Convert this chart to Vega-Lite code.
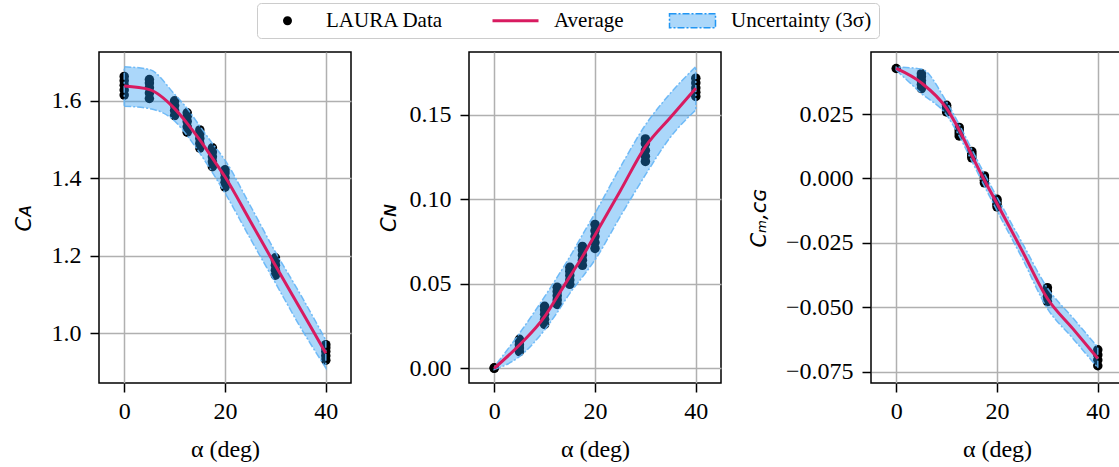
{
  "$schema": "https://vega.github.io/schema/vega-lite/v6.json",
  "padding": {"left": 12, "top": 2, "right": 0, "bottom": 0},
  "spacing": 25,
  "datasets": {
    "pts": [
      {"p":"A","a":0,"v":1.615},{"p":"A","a":0,"v":1.628},{"p":"A","a":0,"v":1.64},{"p":"A","a":0,"v":1.652},{"p":"A","a":0,"v":1.663},
      {"p":"A","a":5,"v":1.606},{"p":"A","a":5,"v":1.62},{"p":"A","a":5,"v":1.634},{"p":"A","a":5,"v":1.646},{"p":"A","a":5,"v":1.655},
      {"p":"A","a":10,"v":1.562},{"p":"A","a":10,"v":1.575},{"p":"A","a":10,"v":1.588},{"p":"A","a":10,"v":1.6},
      {"p":"A","a":12.5,"v":1.519},{"p":"A","a":12.5,"v":1.533},{"p":"A","a":12.5,"v":1.547},{"p":"A","a":12.5,"v":1.56},{"p":"A","a":12.5,"v":1.569},
      {"p":"A","a":15,"v":1.478},{"p":"A","a":15,"v":1.49},{"p":"A","a":15,"v":1.503},{"p":"A","a":15,"v":1.515},{"p":"A","a":15,"v":1.525},
      {"p":"A","a":17.5,"v":1.43},{"p":"A","a":17.5,"v":1.443},{"p":"A","a":17.5,"v":1.456},{"p":"A","a":17.5,"v":1.468},{"p":"A","a":17.5,"v":1.479},
      {"p":"A","a":20,"v":1.377},{"p":"A","a":20,"v":1.39},{"p":"A","a":20,"v":1.402},{"p":"A","a":20,"v":1.414},{"p":"A","a":20,"v":1.422},
      {"p":"A","a":30,"v":1.15},{"p":"A","a":30,"v":1.163},{"p":"A","a":30,"v":1.176},{"p":"A","a":30,"v":1.188},{"p":"A","a":30,"v":1.195},
      {"p":"A","a":40,"v":0.931},{"p":"A","a":40,"v":0.942},{"p":"A","a":40,"v":0.953},{"p":"A","a":40,"v":0.963},{"p":"A","a":40,"v":0.971},
      {"p":"N","a":0,"v":0.0},{"p":"N","a":0,"v":0.0003},
      {"p":"N","a":5,"v":0.0099},{"p":"N","a":5,"v":0.012},{"p":"N","a":5,"v":0.014},{"p":"N","a":5,"v":0.016},{"p":"N","a":5,"v":0.0172},
      {"p":"N","a":10,"v":0.026},{"p":"N","a":10,"v":0.029},{"p":"N","a":10,"v":0.032},{"p":"N","a":10,"v":0.0345},{"p":"N","a":10,"v":0.0367},
      {"p":"N","a":12.5,"v":0.0378},{"p":"N","a":12.5,"v":0.0405},{"p":"N","a":12.5,"v":0.043},{"p":"N","a":12.5,"v":0.0455},{"p":"N","a":12.5,"v":0.048},
      {"p":"N","a":15,"v":0.0497},{"p":"N","a":15,"v":0.0523},{"p":"N","a":15,"v":0.055},{"p":"N","a":15,"v":0.0575},{"p":"N","a":15,"v":0.0598},
      {"p":"N","a":17.5,"v":0.061},{"p":"N","a":17.5,"v":0.064},{"p":"N","a":17.5,"v":0.067},{"p":"N","a":17.5,"v":0.07},{"p":"N","a":17.5,"v":0.0722},
      {"p":"N","a":20,"v":0.071},{"p":"N","a":20,"v":0.0745},{"p":"N","a":20,"v":0.078},{"p":"N","a":20,"v":0.0815},{"p":"N","a":20,"v":0.0852},
      {"p":"N","a":30,"v":0.1225},{"p":"N","a":30,"v":0.1255},{"p":"N","a":30,"v":0.129},{"p":"N","a":30,"v":0.133},{"p":"N","a":30,"v":0.1358},
      {"p":"N","a":40,"v":0.161},{"p":"N","a":40,"v":0.1635},{"p":"N","a":40,"v":0.166},{"p":"N","a":40,"v":0.169},{"p":"N","a":40,"v":0.1718},
      {"p":"M","a":0,"v":0.0427},
      {"p":"M","a":5,"v":0.0349},{"p":"M","a":5,"v":0.0365},{"p":"M","a":5,"v":0.038},{"p":"M","a":5,"v":0.0395},{"p":"M","a":5,"v":0.0407},
      {"p":"M","a":10,"v":0.0258},{"p":"M","a":10,"v":0.0267},{"p":"M","a":10,"v":0.0276},{"p":"M","a":10,"v":0.0284},
      {"p":"M","a":12.5,"v":0.0165},{"p":"M","a":12.5,"v":0.0177},{"p":"M","a":12.5,"v":0.0188},{"p":"M","a":12.5,"v":0.0198},
      {"p":"M","a":15,"v":0.008},{"p":"M","a":15,"v":0.0089},{"p":"M","a":15,"v":0.0097},{"p":"M","a":15,"v":0.0105},
      {"p":"M","a":17.5,"v":-0.0017},{"p":"M","a":17.5,"v":-0.0007},{"p":"M","a":17.5,"v":0.0002},{"p":"M","a":17.5,"v":0.001},
      {"p":"M","a":20,"v":-0.011},{"p":"M","a":20,"v":-0.01},{"p":"M","a":20,"v":-0.009},{"p":"M","a":20,"v":-0.0081},
      {"p":"M","a":30,"v":-0.0478},{"p":"M","a":30,"v":-0.0458},{"p":"M","a":30,"v":-0.044},{"p":"M","a":30,"v":-0.0424},
      {"p":"M","a":40,"v":-0.0727},{"p":"M","a":40,"v":-0.0705},{"p":"M","a":40,"v":-0.0685},{"p":"M","a":40,"v":-0.0665}
    ],
    "avg": [
      {"p":"A","a":0,"m":1.638,"lo":1.586,"hi":1.688},
      {"p":"A","a":5,"m":1.629,"lo":1.58,"hi":1.681},
      {"p":"A","a":10,"m":1.58,"lo":1.548,"hi":1.617},
      {"p":"A","a":12.5,"m":1.542,"lo":1.51,"hi":1.58},
      {"p":"A","a":15,"m":1.499,"lo":1.465,"hi":1.535},
      {"p":"A","a":17.5,"m":1.452,"lo":1.415,"hi":1.49},
      {"p":"A","a":20,"m":1.404,"lo":1.362,"hi":1.447},
      {"p":"A","a":25,"m":1.29,"lo":1.245,"hi":1.33},
      {"p":"A","a":30,"m":1.175,"lo":1.13,"hi":1.21},
      {"p":"A","a":35,"m":1.062,"lo":1.015,"hi":1.1},
      {"p":"A","a":40,"m":0.949,"lo":0.911,"hi":0.983},
      {"p":"N","a":0,"m":0,"lo":-0.0008,"hi":0.0008},
      {"p":"N","a":5,"m":0.0138,"lo":0.0069,"hi":0.0207},
      {"p":"N","a":10,"m":0.0306,"lo":0.0227,"hi":0.0424},
      {"p":"N","a":12.5,"m":0.0424,"lo":0.033,"hi":0.054},
      {"p":"N","a":15,"m":0.0543,"lo":0.0444,"hi":0.066},
      {"p":"N","a":17.5,"m":0.0661,"lo":0.054,"hi":0.079},
      {"p":"N","a":20,"m":0.079,"lo":0.0642,"hi":0.0918},
      {"p":"N","a":25,"m":0.105,"lo":0.0898,"hi":0.119},
      {"p":"N","a":30,"m":0.1313,"lo":0.1145,"hi":0.1441},
      {"p":"N","a":35,"m":0.1487,"lo":0.137,"hi":0.163},
      {"p":"N","a":40,"m":0.1659,"lo":0.153,"hi":0.1787},
      {"p":"M","a":0,"m":0.0427,"lo":0.0421,"hi":0.0433},
      {"p":"M","a":5,"m":0.0371,"lo":0.033,"hi":0.0425},
      {"p":"M","a":10,"m":0.0272,"lo":0.0246,"hi":0.0297},
      {"p":"M","a":12.5,"m":0.0188,"lo":0.0165,"hi":0.021},
      {"p":"M","a":15,"m":0.009,"lo":0.0068,"hi":0.0113},
      {"p":"M","a":17.5,"m":-0.0007,"lo":-0.003,"hi":0.0018},
      {"p":"M","a":20,"m":-0.0097,"lo":-0.0125,"hi":-0.0072},
      {"p":"M","a":25,"m":-0.0281,"lo":-0.031,"hi":-0.025},
      {"p":"M","a":30,"m":-0.0466,"lo":-0.0505,"hi":-0.0425},
      {"p":"M","a":35,"m":-0.0582,"lo":-0.062,"hi":-0.054},
      {"p":"M","a":40,"m":-0.0699,"lo":-0.0735,"hi":-0.0655}
    ]
  },
  "hconcat": [
    {
      "width": 252, "height": 331,
      "layer": [
        {
          "data": {"name": "pts"},
          "transform": [{"filter": "datum.p == 'A'"}],
          "mark": {"type": "point", "filled": true, "size": 90, "opacity": 1},
          "encoding": {
            "x": {"field": "a", "type": "quantitative", "scale": {"domain": [-5, 45], "nice": false, "zero": false}, "axis": {"values": [0, 20, 40], "format": "d", "title": "α (deg)"}},
            "y": {"field": "v", "type": "quantitative", "scale": {"domain": [0.872, 1.726], "nice": false, "zero": false}, "axis": {"values": [1.0, 1.2, 1.4, 1.6], "format": ".1f", "title": "Cᴀ", "titlePadding": 17}},
            "color": {
              "datum": "LAURA Data",
              "scale": {"domain": ["LAURA Data", "Average", "Uncertainty (3σ)"], "range": ["black", "#D81B60", "#2196F3"]},
              "legend": {
                "title": null,
                "encode": {
                  "symbols": {
                    "update": {
                      "shape": {"signal": "datum.value == 'LAURA Data' ? 'M0.85,0A0.45,0.45,0,1,1,1.75,0A0.45,0.45,0,1,1,0.85,0Z' : datum.value == 'Average' ? 'M-1,0H3.6' : 'M-1,-0.7H3.6V0.7H-1Z'"},
                      "size": {"value": 400},
                      "fill": {"signal": "datum.value == 'LAURA Data' ? 'black' : datum.value == 'Average' ? 'transparent' : '#2196F3'"},
                      "fillOpacity": {"signal": "datum.value == 'LAURA Data' ? 1 : 0.38"},
                      "stroke": {"signal": "datum.value == 'Average' ? '#D81B60' : datum.value == 'LAURA Data' ? 'black' : '#64B5F6'"},
                      "strokeWidth": {"signal": "datum.value == 'Average' ? 3 : datum.value == 'LAURA Data' ? 0 : 1.5"},
                      "strokeDash": {"signal": "datum.value == 'Average' || datum.value == 'LAURA Data' ? [1, 0] : [7, 2, 2, 2]"},
                      "opacity": {"value": 1}
                    }
                  }
                }
              }
            }
          }
        },
        {
          "data": {"name": "avg"},
          "transform": [{"filter": "datum.p == 'A'"}],
          "mark": {"type": "area", "interpolate": "monotone", "fillOpacity": 0.38, "stroke": "#64B5F6", "strokeWidth": 1.5, "strokeDash": [7, 2, 2, 2], "strokeOpacity": 0.9},
          "encoding": {
            "x": {"field": "a", "type": "quantitative"},
            "y": {"field": "lo", "type": "quantitative", "title": "Cᴀ"},
            "y2": {"field": "hi"},
            "color": {"datum": "Uncertainty (3σ)"}
          }
        },
        {
          "data": {"name": "avg"},
          "transform": [{"filter": "datum.p == 'A'"}],
          "mark": {"type": "line", "interpolate": "monotone", "strokeWidth": 3},
          "encoding": {
            "x": {"field": "a", "type": "quantitative"},
            "y": {"field": "m", "type": "quantitative", "title": "Cᴀ"},
            "color": {"datum": "Average"}
          }
        }
      ]
    },
    {
      "width": 252, "height": 331,
      "layer": [
        {
          "data": {"name": "pts"},
          "transform": [{"filter": "datum.p == 'N'"}],
          "mark": {"type": "point", "filled": true, "size": 90, "opacity": 1},
          "encoding": {
            "x": {"field": "a", "type": "quantitative", "scale": {"domain": [-5, 45], "nice": false, "zero": false}, "axis": {"values": [0, 20, 40], "format": "d", "title": "α (deg)"}},
            "y": {"field": "v", "type": "quantitative", "scale": {"domain": [-0.0087, 0.1873], "nice": false, "zero": false}, "axis": {"values": [0, 0.05, 0.1, 0.15], "format": ".2f", "title": "Cɴ", "titlePadding": 10}},
            "color": {"datum": "LAURA Data"}
          }
        },
        {
          "data": {"name": "avg"},
          "transform": [{"filter": "datum.p == 'N'"}],
          "mark": {"type": "area", "interpolate": "monotone", "fillOpacity": 0.38, "stroke": "#64B5F6", "strokeWidth": 1.5, "strokeDash": [7, 2, 2, 2], "strokeOpacity": 0.9},
          "encoding": {
            "x": {"field": "a", "type": "quantitative"},
            "y": {"field": "lo", "type": "quantitative", "title": "Cɴ"},
            "y2": {"field": "hi"},
            "color": {"datum": "Uncertainty (3σ)"}
          }
        },
        {
          "data": {"name": "avg"},
          "transform": [{"filter": "datum.p == 'N'"}],
          "mark": {"type": "line", "interpolate": "monotone", "strokeWidth": 3},
          "encoding": {
            "x": {"field": "a", "type": "quantitative"},
            "y": {"field": "m", "type": "quantitative", "title": "Cɴ"},
            "color": {"datum": "Average"}
          }
        }
      ]
    },
    {
      "width": 252, "height": 331,
      "layer": [
        {
          "data": {"name": "pts"},
          "transform": [{"filter": "datum.p == 'M'"}],
          "mark": {"type": "point", "filled": true, "size": 90, "opacity": 1},
          "encoding": {
            "x": {"field": "a", "type": "quantitative", "scale": {"domain": [-5, 45], "nice": false, "zero": false}, "axis": {"values": [0, 20, 40], "format": "d", "title": "α (deg)"}},
            "y": {"field": "v", "type": "quantitative", "scale": {"domain": [-0.0794, 0.0491], "nice": false, "zero": false}, "axis": {"values": [-0.075, -0.05, -0.025, 0, 0.025], "format": ".3f", "title": "Cₘ,ᴄɢ", "titlePadding": 16}},
            "color": {"datum": "LAURA Data"}
          }
        },
        {
          "data": {"name": "avg"},
          "transform": [{"filter": "datum.p == 'M'"}],
          "mark": {"type": "area", "interpolate": "monotone", "fillOpacity": 0.38, "stroke": "#64B5F6", "strokeWidth": 1.5, "strokeDash": [7, 2, 2, 2], "strokeOpacity": 0.9},
          "encoding": {
            "x": {"field": "a", "type": "quantitative"},
            "y": {"field": "lo", "type": "quantitative", "title": "Cₘ,ᴄɢ"},
            "y2": {"field": "hi"},
            "color": {"datum": "Uncertainty (3σ)"}
          }
        },
        {
          "data": {"name": "avg"},
          "transform": [{"filter": "datum.p == 'M'"}],
          "mark": {"type": "line", "interpolate": "monotone", "strokeWidth": 3},
          "encoding": {
            "x": {"field": "a", "type": "quantitative"},
            "y": {"field": "m", "type": "quantitative", "title": "Cₘ,ᴄɢ"},
            "color": {"datum": "Average"}
          }
        }
      ]
    }
  ],
  "config": {
    "font": "Liberation Serif",
    "view": {"stroke": "black", "strokeWidth": 1.5},
    "axis": {
      "domain": false, "grid": true, "gridColor": "#b0b0b0", "gridWidth": 1.5, "gridOpacity": 1,
      "tickColor": "black", "tickWidth": 1.5, "tickSize": 9,
      "labelFont": "Liberation Serif", "labelFontSize": 24, "labelColor": "black", "labelPadding": 9,
      "titleFont": "Liberation Serif", "titleFontSize": 24, "titleFontWeight": "normal", "titleColor": "black"
    },
    "axisX": {"labelPadding": 7, "titlePadding": 14},
    "axisY": {"titleFont": "DejaVu Sans", "titleFontStyle": "italic", "titleFontSize": 21},
    "legend": {
      "orient": "top", "direction": "horizontal", "offset": 13,
      "layout": {"top": {"anchor": "middle"}},
      "symbolSize": 400, "labelFont": "Liberation Serif", "labelFontSize": 21, "labelColor": "black",
      "labelOffset": 41, "columnPadding": 42, "padding": 7,
      "strokeColor": "#cccccc", "cornerRadius": 4, "fillColor": "white",
      "symbolOpacity": 1
    }
  }
}
